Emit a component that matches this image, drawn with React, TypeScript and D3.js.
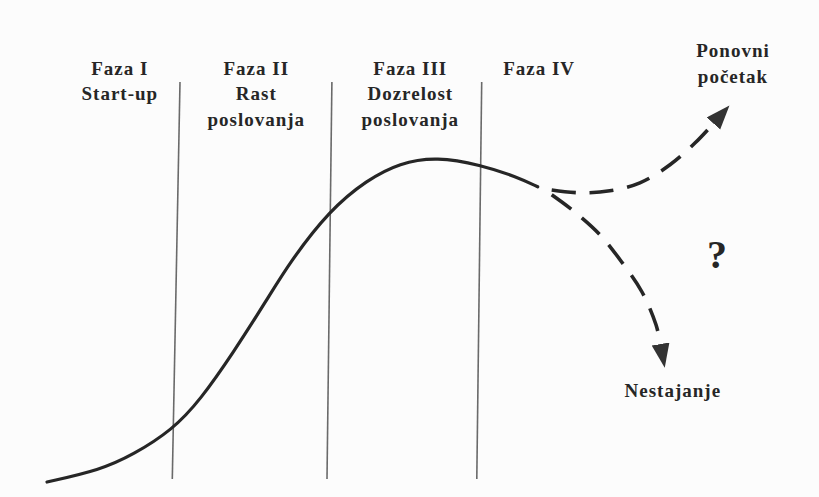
import React from "react";
import * as d3 from "d3";

// life-cycle curve (time, level)
const curveT = [0, 7.6, 12.3, 17.9, 21.9, 26.6, 31.4, 34.7, 40.4, 45.7, 50.4, 55.7, 61.9, 67.1, 70.1];
const curveV = [0, 3, 6.8, 13, 20.5, 32.3, 45.5, 55, 68, 75.5, 79.8, 81.3, 79.3, 76.3, 73.8];

// dashed branches
const renewT = [72.1, 76.1, 80.4, 84.7, 89, 92.6, 95.4];
const renewV = [73, 72.3, 72.8, 74.8, 79.3, 84.8, 90];
const declineT = [72.1, 75.4, 79, 82.1, 85, 87, 87.7];
const declineV = [71.8, 67.5, 61.8, 55, 47.5, 39.3, 34];

// phase boundaries (scan is slightly tilted)
const boundaryTop = [19.0, 40.7, 62.1];
const boundaryBottom = [17.9, 40.0, 61.4];

const phaseLabels = [
  ["Faza I", "Start-up"],
  ["Faza II", "Rast", "poslovanja"],
  ["Faza III", "Dozrelost", "poslovanja"],
  ["Faza IV"],
];
const phaseCenters = [10.4, 29.9, 51.9, 70.3];
const lineLevels = [101.75, 95.5, 89];

const W = 819;
const H = 497;

const x = d3.scaleLinear().domain([0, 100]).range([47, 747]);
const y = d3.scaleLinear().domain([0, 100]).range([482, 82]);

const toPts = (ts: number[], vs: number[]) => ts.map((t, i) => [t, vs[i]] as [number, number]);

const smooth = d3
  .line<[number, number]>()
  .x((d) => x(d[0]))
  .y((d) => y(d[1]))
  .curve(d3.curveBasis);

const line = d3
  .line<[number, number]>()
  .x((d) => x(d[0]))
  .y((d) => y(d[1]))
  .curve(d3.curveCatmullRom.alpha(0.5));

const ink = "#262626";
const font = "'Liberation Serif', 'Times New Roman', serif";

const App: React.FC = () => {
  return (
    <svg
      width={W}
      height={H}
      style={{ position: "absolute", left: 0, top: 0, background: "#fcfcfc" }}
    >
      <defs>
        <marker
          id="arrow"
          markerUnits="userSpaceOnUse"
          markerWidth={26}
          markerHeight={20}
          refX={2}
          refY={9}
          orient="auto"
        >
          <path d="M0,0 L24,9 L0,18 Z" fill="#333" />
        </marker>
      </defs>

      {boundaryTop.map((t, i) => (
        <line
          key={i}
          x1={x(t)}
          y1={y(100)}
          x2={x(boundaryBottom[i])}
          y2={y(0.75)}
          stroke="#6a6a6a"
          strokeWidth={1.6}
        />
      ))}

      <path d={smooth(toPts(curveT, curveV)) || ""} fill="none" stroke={ink} strokeWidth={3.2} strokeLinecap="round" />

      <path
        d={line(toPts(renewT, renewV)) || ""}
        fill="none"
        stroke={ink}
        strokeWidth={3.6}
        strokeDasharray="24 14"
        markerEnd="url(#arrow)"
      />
      <path
        d={line(toPts(declineT, declineV)) || ""}
        fill="none"
        stroke={ink}
        strokeWidth={3.6}
        strokeDasharray="24 14"
        markerEnd="url(#arrow)"
      />

      <g fontFamily={font} fontWeight="bold" fontSize={19} fill={ink} letterSpacing={1} textAnchor="middle">
        {phaseLabels.map((lines, i) =>
          lines.map((s, j) => (
            <text key={`${i}-${j}`} x={x(phaseCenters[i])} y={y(lineLevels[j])}>
              {s}
            </text>
          ))
        )}
        <text x={x(98)} y={y(106.25)}>Ponovni</text>
        <text x={x(98)} y={y(99.75)}>početak</text>
        <text x={x(89.4)} y={y(21.25)}>Nestajanje</text>
        <text x={x(95.7)} y={y(53.5)} fontSize={40} letterSpacing={0}>?</text>
      </g>
    </svg>
  );
};

export default App;
